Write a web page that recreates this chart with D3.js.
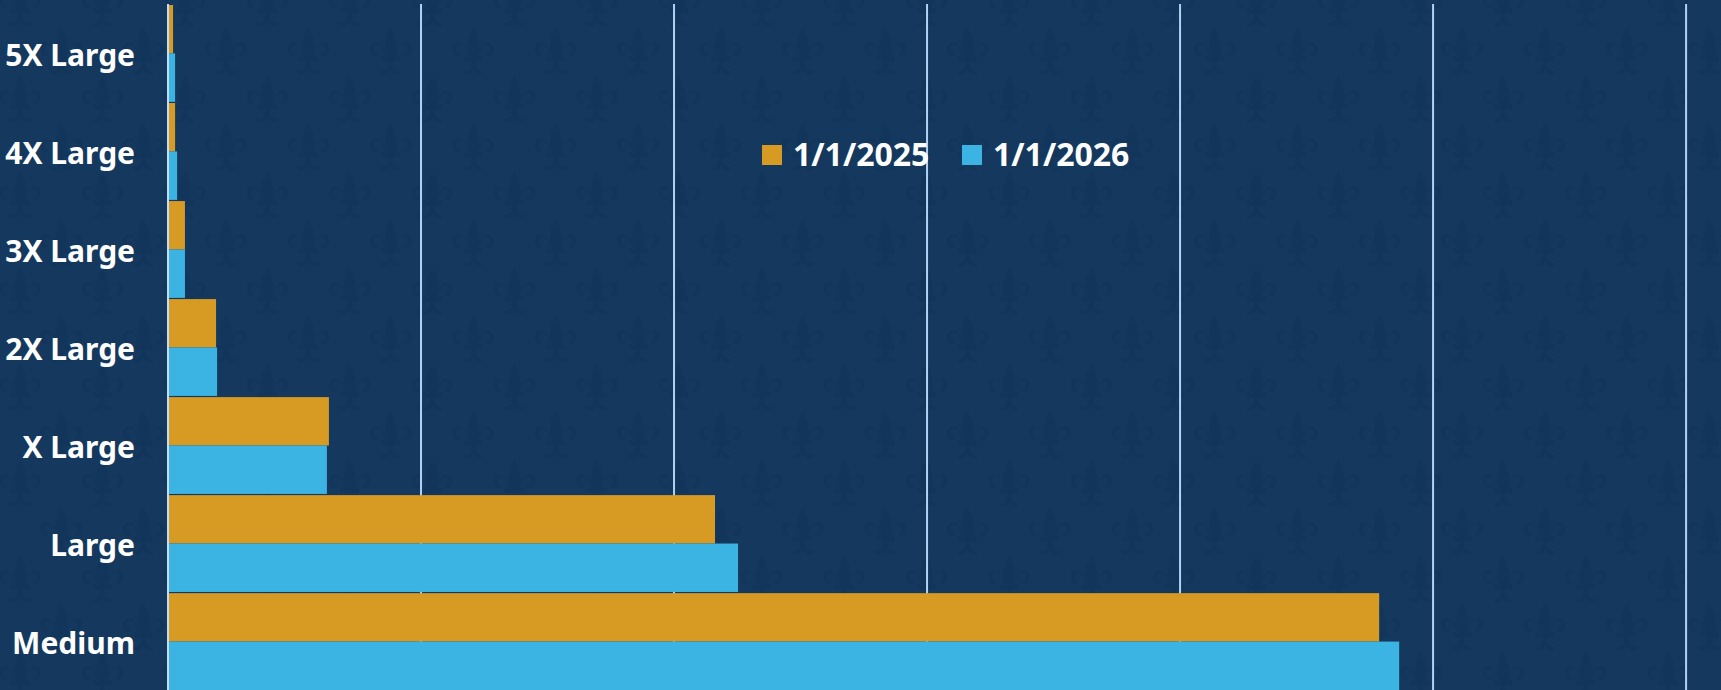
<!DOCTYPE html>
<html>
<head>
<meta charset="utf-8">
<script src="https://cdn.jsdelivr.net/npm/d3@7"></script>
<style>
  html, body { margin: 0; padding: 0; background: #15395e; }
  svg { display: block; }
  .label { font-family: "Noto Sans", "Open Sans", sans-serif; font-weight: 700; fill: #fff; }
</style>
</head>
<body>
<div id="chart"></div>
<script>
'use strict'

// sizes, top to bottom as drawn
let categories = ['5X Large', '4X Large', '3X Large', '2X Large', 'X Large', 'Large', 'Medium']
let seriesNames = ['1/1/2025', '1/1/2026']
let values2025 = [20, 28, 67, 190, 636, 2162, 4787]
let values2026 = [28, 36, 67, 194, 628, 2253, 4866]
let gridTicks = [0, 1000, 2000, 3000, 4000, 5000, 6000]
let colors = ['#d79a22', '#3bb4e4']

let config = {
  width: 1721,
  height: 690,
  plotLeft: 168,
  plotTop: 4,
  labelX: 135
}

let {width, height, plotLeft, plotTop} = config

let svg = d3.select('#chart').append('svg')
  .attr('width', width)
  .attr('height', height)

// fleur-de-lis wallpaper
let defs = svg.append('defs')
let pat = defs.append('pattern')
  .attr('id', 'fleur')
  .attr('patternUnits', 'userSpaceOnUse')
  .attr('x', 0).attr('y', 76)
  .attr('width', 82.4).attr('height', 96)

let fleur = 'M0,-24 C6,-16 8,-6 3,3 L-3,3 C-8,-6 -6,-16 0,-24 Z' +
  'M3,3 C6,-12 21,-15 20,-3 C19,4 12,5 12,-1 C15,1 17,-2 15,-6 C12,-10 6,-5 5,4 Z' +
  'M-3,3 C-6,-12 -21,-15 -20,-3 C-19,4 -12,5 -12,-1 C-15,1 -17,-2 -15,-6 C-12,-10 -6,-5 -5,4 Z' +
  'M-9,3 L9,3 L9,8 L-9,8 Z' +
  'M-2,8 L2,8 L3,14 C6,18 10,18 12,15 C10,22 4,22 0,17 C-4,22 -10,22 -12,15 C-10,18 -6,18 -3,14 Z'

pat.append('rect').attr('width', 82.4).attr('height', 96).attr('fill', '#15395e')
;[[20, 25], [61.2, 73]].forEach(p => {
  pat.append('path')
    .attr('d', fleur)
    .attr('transform', `translate(${p[0]}, ${p[1]}) scale(1.05)`)
    .attr('fill', '#12365b')
})

svg.append('rect')
  .attr('width', width)
  .attr('height', height)
  .attr('fill', 'url(#fleur)')

let x = d3.scaleLinear()
  .domain([0, 6138])
  .range([plotLeft, width])

let y = d3.scaleBand()
  .domain(categories)
  .range([5, 690])
  .paddingInner(0.012)

let ySub = d3.scaleBand()
  .domain(seriesNames)
  .range([0, y.bandwidth()])

// grid
svg.append('g').attr('class', 'grid')
  .selectAll('line').data(gridTicks)
  .enter().append('line')
  .attr('x1', d => x(d)).attr('x2', d => x(d))
  .attr('y1', plotTop).attr('y2', height)
  .attr('stroke', '#b3d1f1')
  .attr('stroke-width', 2)

// bars
let rows = categories.map((c, i) => ({cat: c, vals: [values2025[i], values2026[i]]}))
let groups = svg.append('g').attr('class', 'bars')
  .selectAll('g').data(rows)
  .enter().append('g')
  .attr('transform', d => `translate(0, ${y(d.cat)})`)

groups.selectAll('rect')
  .data(d => d.vals.map((v, i) => ({name: seriesNames[i], v: v, i: i})))
  .enter().append('rect')
  .attr('x', x(0) + 1)
  .attr('y', d => ySub(d.name))
  .attr('width', d => x(d.v) - x(0) - 1)
  .attr('height', ySub.bandwidth())
  .attr('fill', d => colors[d.i])

// category axis line
svg.append('line')
  .attr('x1', x(0)).attr('x2', x(0))
  .attr('y1', plotTop).attr('y2', height)
  .attr('stroke', '#c3ddf6')
  .attr('stroke-width', 2)

// category labels
svg.append('g')
  .selectAll('text').data(categories)
  .enter().append('text')
  .attr('class', 'label')
  .attr('x', config.labelX)
  .attr('y', d => y(d) + y.bandwidth() / 2 + 2)
  .attr('dy', '0.36em')
  .attr('text-anchor', 'end')
  .attr('font-size', 30)
  .text(d => d)

// legend
let legend = svg.append('g').attr('class', 'legend')
let legendX = [762, 962]
let items = legend.selectAll('g').data(seriesNames)
  .enter().append('g')
  .attr('transform', (d, i) => `translate(${legendX[i]}, 145)`)
items.append('rect')
  .attr('width', 20).attr('height', 20)
  .attr('fill', (d, i) => colors[i])
items.append('text')
  .attr('class', 'label')
  .attr('x', 31)
  .attr('y', 21)
  .attr('font-size', 32)
  .text(d => d)
</script>
</body>
</html>
